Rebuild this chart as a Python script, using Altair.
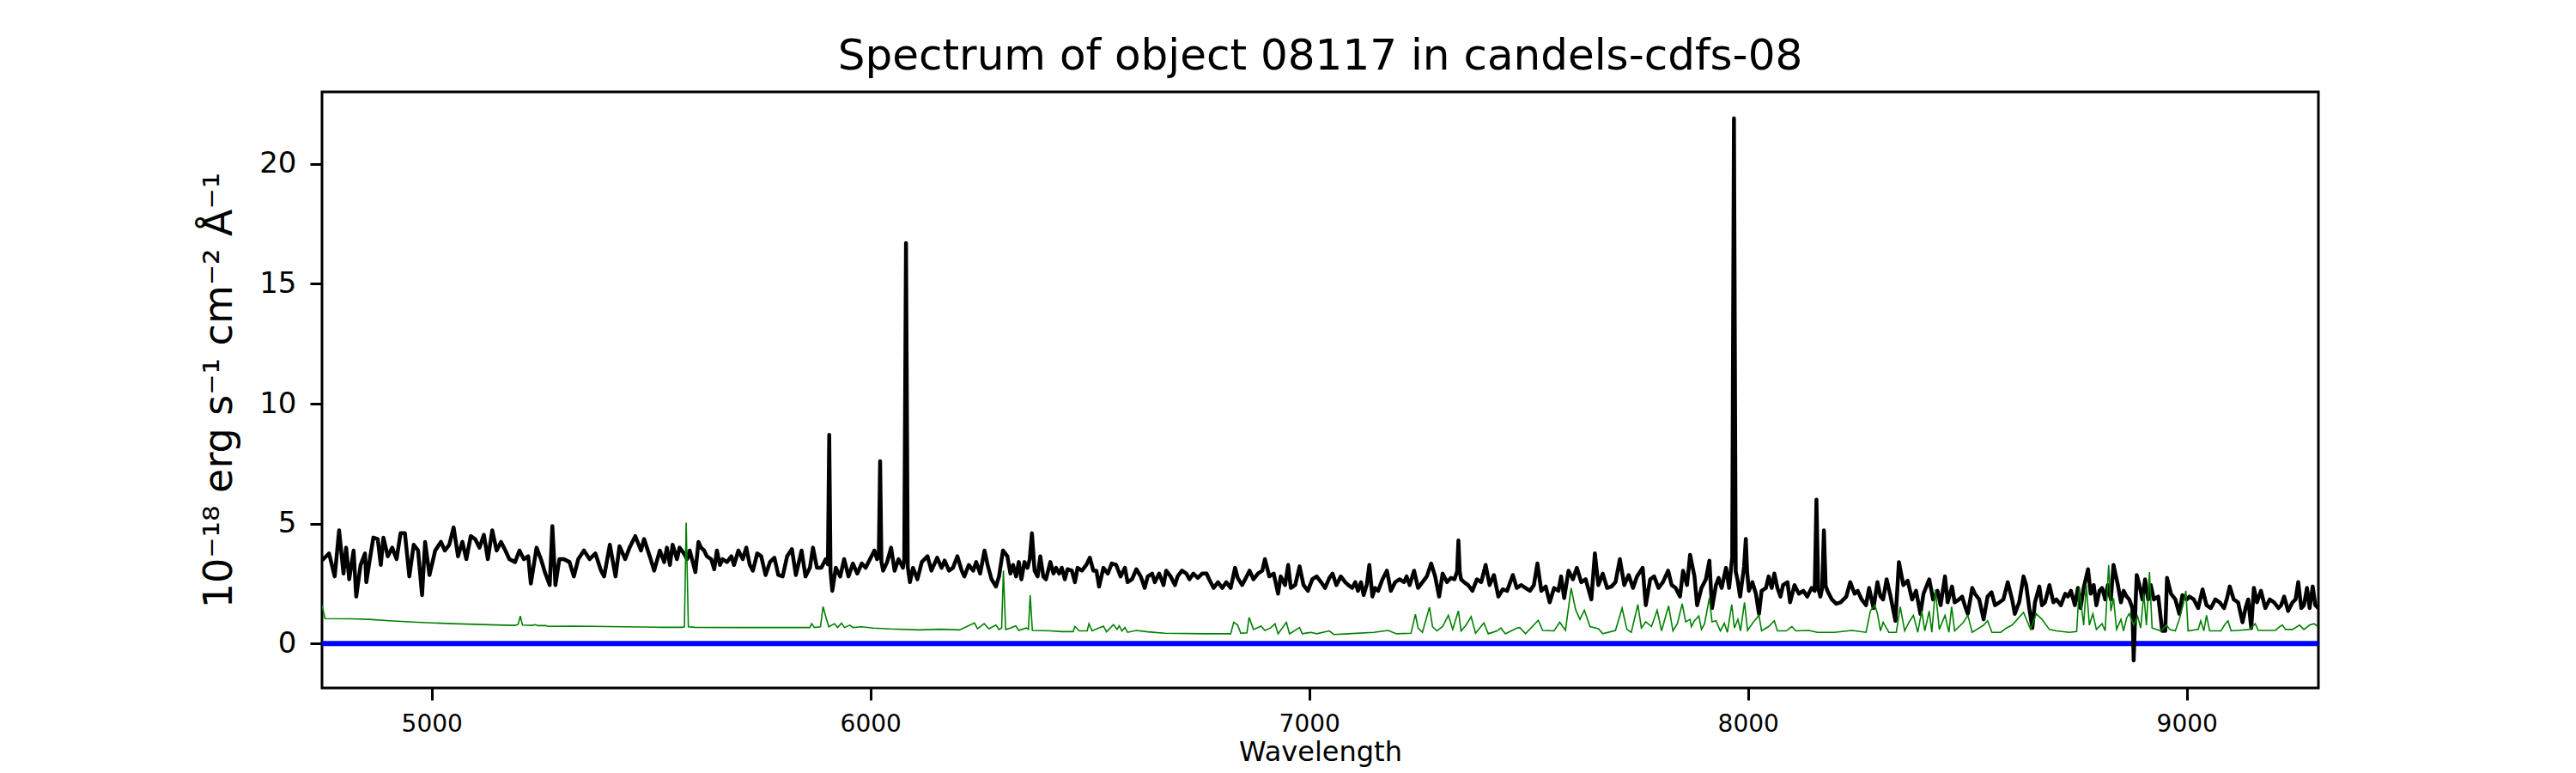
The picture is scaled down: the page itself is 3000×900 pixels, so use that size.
import altair as alt
import pandas as pd

# ---- object spectrum (wavelength [A], flux [1e-18 erg/s/cm2/A]) ----
obj_1 = [(4750,3.6),(4753,3.52),(4766,3.76),(4779,2.80),(4789,4.72),(4799,2.92),(4805,4.00),(4812,2.68),(4822,3.88),(4828,1.96),
         (4838,3.28),(4848,3.76),(4851,2.56),(4858,3.40),(4867,4.42),(4877,4.36),(4884,3.28),(4890,4.42),(4900,3.64),(4910,4.00),
         (4920,3.52),(4929,4.60),(4939,4.60),(4949,2.80),(4959,4.12),(4969,3.88),(4978,2.02),(4985,4.24),(4995,2.86),(5008,3.88),
         (5021,4.24),(5030,3.88),(5040,4.12),(5050,4.84),(5060,3.64),(5070,4.24),(5079,3.52),(5089,4.48),(5099,4.36),(5109,4.00),
         (5119,4.54),(5128,3.52),(5138,4.72),(5148,3.88),(5158,4.24),(5168,3.88),(5177,3.52),(5190,3.40),(5200,3.88),(5210,3.52),
         (5220,3.64),(5226,2.50),(5239,4.00),(5249,3.52),(5259,2.92),(5269,2.44),(5275,4.90),(5282,2.44),(5291,3.52),(5301,3.52),
         (5314,3.40),(5324,2.80),(5334,3.52),(5347,3.88),(5360,3.52),(5373,3.76),(5386,3.04),(5393,2.80),(5406,4.12),(5419,2.80),
         (5428,4.06),(5441,3.52),(5451,4.00),(5464,4.48),(5477,3.88),(5484,4.36),(5497,3.64),(5507,3.04),(5520,3.88)]
obj_2 = [(5530,3.40),(5536,4.00),(5543,3.28),(5549,4.12),(5559,3.52),(5565,4.00),(5575,3.76),(5582,3.52),(5588,3.88),(5595,3.40),
         (5601,2.98),(5608,4.24),(5614,4.00),(5621,3.88),(5627,3.64),(5637,3.52),(5644,3.10),(5650,3.88),(5657,3.28),(5663,3.52),
         (5673,3.40),(5683,3.64),(5689,3.28),(5699,3.88),(5709,3.52),(5717,4.00),(5725,3.28),(5732,3.04),(5742,3.76),(5751,3.64),
         (5761,2.86),(5771,3.40),(5781,3.58),(5790,2.86),(5800,2.80),(5810,3.64),(5821,3.94),(5830,2.86),(5843,3.88),(5852,2.80),
         (5862,3.16),(5869,4.00),(5878,3.16),(5888,3.16),(5898,3.52),(5903,3.3),(5906,8.7),(5909,3.0),(5913,2.20),(5921,3.16),
         (5931,2.80),(5940,3.52),(5950,2.80),(5960,3.34),(5970,2.92),(5980,3.34),(5989,3.16),(5999,3.52),(6009,3.88),(6015,3.52),
         (6019,3.6),(6022,7.6),(6025,3.4),(6029,3.04),(6038,3.40),(6047,4.00),(6055,3.04),(6064,3.52),(6074,3.16),(6077,3.5),
         (6081,16.7),(6085,3.2),(6090,2.56),(6097,3.16),(6107,2.68),(6117,3.40),(6130,3.64),(6139,3.04),(6152,3.58),(6162,3.16),
         (6169,3.46),(6179,3.04),(6188,3.16),(6198,3.64),(6208,3.04),(6214,2.80),(6224,3.28),(6234,3.04),(6241,3.40),(6250,2.92),
         (6260,3.88),(6267,3.28),(6276,2.68),(6286,2.38),(6293,2.80),(6302,3.88)]
obj_3 = [(6312,3.64),(6319,2.92),(6325,3.28),(6332,2.80),(6338,3.40),(6344,2.68),(6351,3.40),(6358,3.16),(6363,3.52),(6368,4.60),
         (6374,3.04),(6381,2.80),(6387,3.64),(6394,2.80),(6400,2.68),(6410,3.40),(6417,2.92),(6423,3.16),(6430,2.92),(6436,3.16),
         (6443,2.68),(6449,3.10),(6459,3.04),(6466,2.56),(6472,3.16),(6482,3.04),(6492,3.28),(6500,3.58),(6508,3.04),(6515,3.04),
         (6521,2.38),(6531,3.16),(6541,2.92),(6550,3.34),(6560,3.28),(6570,2.80),(6580,3.16),(6586,2.56),(6596,2.68),(6606,3.10),
         (6616,2.80),(6625,2.32),(6632,2.80),(6642,2.92),(6648,2.56),(6658,2.92),(6668,2.44),(6674,3.04),(6684,2.80),(6694,2.44),
         (6700,2.80),(6710,3.04),(6720,2.92),(6727,2.68),(6736,2.92),(6746,2.74),(6756,2.92),(6766,2.92),(6772,2.68),(6782,2.32),
         (6792,2.56),(6802,2.32),(6811,2.56),(6821,2.32),(6831,3.16),(6837,2.74),(6847,2.44),(6854,2.68),(6864,3.04),(6873,2.68),
         (6883,2.92),(6893,3.04),(6899,3.52),(6909,2.80),(6919,2.92),(6929,2.08),(6935,2.80),(6945,2.44),(6952,3.28),(6958,2.32),
         (6968,2.44),(6978,3.22),(6987,2.44),(6997,2.20),(7007,2.68),(7017,2.80),(7027,2.56),(7036,2.32),(7046,2.74),(7053,2.92),
         (7062,2.44),(7072,2.80),(7082,2.56)]
obj_4 = [(7089,2.44),(7098,2.32),(7105,2.56),(7111,2.20),(7118,2.56),(7124,2.02),(7131,2.44),(7137,3.28),(7144,1.96),(7150,2.32),
         (7157,2.20),(7167,2.68),(7177,3.04),(7186,2.20),(7196,2.56),(7206,2.68),(7216,2.56),(7222,2.80),(7229,2.44),(7239,3.04),
         (7248,2.32),(7258,2.56),(7268,2.80),(7278,3.34),(7287,2.80),(7296,1.96),(7304,2.92),(7314,2.56),(7323,2.74),(7331,2.68),
         (7337,3.0),(7340,4.30),(7343,3.0),(7346,2.68),(7353,2.56),(7362,2.44),(7372,2.20),(7382,2.68),(7392,2.56),(7402,3.28),
         (7411,2.44),(7421,2.86),(7431,1.96),(7441,2.26),(7451,2.20),(7464,2.86),(7473,2.32),(7483,2.44),(7493,2.32),(7503,2.20),
         (7512,2.44),(7520,3.34),(7529,2.20),(7539,2.38),(7548,1.72),(7558,2.32),(7568,2.20),(7574,2.80),(7581,1.90),(7591,3.04),
         (7601,2.68),(7610,3.16),(7620,2.56),(7630,2.68),(7643,1.84),(7651,3.76),(7659,2.44),(7669,2.92),(7679,2.32),(7689,2.38),
         (7698,2.56),(7708,3.52),(7718,2.44),(7728,2.86),(7738,2.32),(7747,2.80),(7760,3.16),(7767,1.60),(7777,2.68),(7786,2.80),
         (7796,2.32),(7806,2.56),(7818,3.04),(7826,2.44),(7835,2.32),(7845,1.96),(7852,3.04),(7861,2.44),(7868,3.70)]
obj_5 = [(7878,2.80),(7884,1.60),(7894,2.32),(7904,2.68),(7912,3.46),(7918,1.48),(7927,2.44),(7933,2.74),(7940,2.32),(7950,3.16),
         (7957,2.32),(7964,3.6),(7968,21.9),(7972,3.0),(7976,2.68),(7982,1.96),(7991,3.2),(7995,4.36),(7998,3.0),(8002,2.20),
         (8010,2.56),(8018,2.08),(8025,1.24),(8031,2.20),(8041,2.32),(8047,2.80),(8054,2.32),(8060,2.92),(8067,2.32),(8074,1.96),
         (8080,2.44),(8090,2.56),(8096,1.72),(8106,2.44),(8116,2.08),(8126,2.20),(8135,1.96),(8145,2.32),(8152,2.20),(8156,6.0),
         (8160,2.3),(8165,1.96),(8169,2.3),(8173,4.72),(8177,2.4),(8181,2.20),(8191,1.84),(8201,1.66),(8211,1.72),(8224,1.96),
         (8233,2.56),(8243,2.08),(8250,2.20),(8259,1.84),(8269,1.60),(8276,2.32),(8286,1.48),(8295,2.56),(8302,1.96),(8308,1.84),
         (8316,2.68),(8325,1.96),(8336,0.95),(8344,3.40),(8354,2.44),(8364,2.62),(8374,1.84),(8383,2.20),(8393,1.24),(8400,2.08),
         (8413,2.68),(8422,1.84),(8432,2.20),(8439,1.60),(8449,2.80),(8455,1.72),(8465,2.38),(8471,1.72),(8481,1.84),(8488,1.96),
         (8494,1.60),(8501,1.24),(8511,2.32),(8517,2.08),(8527,1.84),(8537,1.01),(8546,1.96),(8555,2.14),(8563,1.60),(8573,1.72),
         (8582,1.84),(8592,2.56),(8602,1.84),(8608,1.24),(8618,1.72),(8628,2.80),(8634,2.44),(8641,1.48),(8648,0.65)]
obj_6 = [(8654,1.72),(8664,2.38),(8670,1.60),(8677,1.72),(8687,2.44),(8696,1.72),(8703,1.84),(8713,1.60),(8723,2.08),(8729,1.96),
         (8736,2.20),(8745,1.60),(8752,2.32),(8758,1.48),(8765,2.32),(8775,3.10),(8781,2.08),(8788,2.44),(8794,1.60),(8801,2.20),
         (8807,2.32),(8814,1.84),(8820,2.44),(8827,1.84),(8833,3.28),(8843,2.44),(8850,1.72),(8856,2.20),(8863,1.96),(8869,1.84),
         (8876,1.48),(8879,-0.7),(8883,1.5),(8886,2.86),(8892,2.44),(8899,1.84),(8905,2.68),(8912,1.84),(8918,2.44),(8925,1.84),
         (8935,1.96),(8944,0.53),(8951,0.53),(8955,2.74),(8964,2.08),(8974,1.84),(8983,1.24),(8990,2.02),(9000,1.84),(9006,1.96),
         (9016,1.84),(9026,1.48),(9036,2.26),(9045,1.60),(9055,1.48),(9065,1.84),(9075,1.72),(9085,1.48),(9091,1.84),(9098,2.38),
         (9107,1.84),(9117,1.72),(9127,0.89),(9134,1.48),(9140,1.84),(9147,0.65),(9153,2.32),(9160,1.72),(9169,2.20),(9179,1.48),
         (9189,1.84),(9199,1.72),(9209,1.48),(9215,1.60),(9222,1.96),(9231,1.36),(9241,1.72),(9248,1.84),(9254,2.56),(9261,1.48),
         (9267,1.60),(9274,2.32),(9280,1.48),(9287,2.38),(9293,1.60),(9300,1.48)]

# ---- sky spectrum ----
sky_1 = [(4750,1.60),(4757,1.04),(4818,1.03),(4857,1.01),(4903,0.95),(4968,0.89),(5047,0.83),(5164,0.77),(5190,0.76),(5197,0.80),
         (5202,1.15),(5207,0.77),(5230,0.76),(5236,0.79),(5242,0.75),(5260,0.75),(5265,0.72),(5327,0.73),(5400,0.71),(5480,0.69),
         (5523,0.68)]
sky_2 = [(5570,0.68),(5576,0.70),(5580,5.04),(5585,0.70),(5600,0.68),(5700,0.67),(5800,0.67),(5862,0.67),(5866,0.83),(5872,0.67),
         (5886,0.70),(5892,1.54),(5898,1.13),(5905,0.70),(5918,0.83),(5925,0.67),(5934,0.85),(5941,0.67),(5953,0.77),(5960,0.67),
         (5980,0.70),(6006,0.65),(6045,0.61),(6110,0.57),(6160,0.60),(6203,0.57),(6237,0.86),(6244,0.62),(6259,0.83),(6270,0.62),
         (6286,0.77),(6293,0.59),(6299,0.65),(6303,3.05),(6308,0.59)]
sky_3 = [(6319,0.65),(6331,0.74),(6338,0.55),(6355,0.65),(6360,0.60),(6364,2.02),(6369,0.55),(6410,0.53),(6436,0.50),(6462,0.50),
         (6466,0.71),(6476,0.53),(6494,0.53),(6498,0.83),(6505,0.53),(6531,0.73),(6538,0.49),(6554,0.79),(6562,0.59),(6567,0.74),
         (6573,0.53),(6580,0.67),(6586,0.47),(6606,0.55),(6632,0.49),(6671,0.43),(6762,0.41),(6821,0.41),(6828,0.89),(6837,0.77),
         (6844,0.43),(6858,0.45),(6863,1.09),(6873,0.59),(6890,0.73),(6899,0.55),(6912,0.65),(6922,0.83),(6929,0.41),(6948,0.89),
         (6955,0.41),(6978,0.67),(6984,0.41),(7004,0.47),(7017,0.41),(7046,0.53),(7056,0.38),(7089,0.41)]
sky_4 = [(7147,0.47),(7180,0.55),(7199,0.41),(7232,0.43),(7242,1.22),(7248,0.65),(7258,0.47),(7274,1.52),(7281,0.71),(7291,0.53),
         (7304,0.71),(7317,1.18),(7327,0.59),(7340,1.36),(7346,0.53),(7356,0.74),(7369,1.12),(7379,0.43),(7398,0.86),(7408,0.41),
         (7428,0.53),(7437,0.65),(7447,0.41),(7473,0.65),(7480,0.67),(7493,0.41),(7522,0.97),(7532,0.55),(7558,0.53),(7571,0.89),
         (7584,0.55),(7597,2.32),(7607,1.42),(7617,1.01),(7627,1.39),(7640,0.71),(7659,0.62),(7669,0.41),(7698,0.55),(7713,1.48),
         (7724,0.59),(7734,0.47),(7749,1.63),(7757,0.65),(7767,0.91),(7780,0.71),(7793,1.39),(7803,0.53),(7819,1.57),(7829,0.53),
         (7839,0.83),(7850,1.66),(7858,0.91),(7868,1.01)]
sky_5 = [(7871,0.71),(7878,0.95),(7888,1.15),(7894,0.59),(7901,0.83),(7912,1.90),(7918,0.91),(7927,0.95),(7937,0.53),(7946,0.85),
         (7953,0.47),(7963,1.63),(7969,0.65),(7977,1.01),(7983,0.53),(7992,1.72),(7999,0.55),(8012,0.89),(8025,1.18),(8031,0.53),
         (8047,0.71),(8060,0.95),(8067,0.53),(8087,0.53),(8100,0.71),(8109,0.53),(8139,0.55),(8158,0.47),(8197,0.47),(8237,0.55),
         (8269,0.47),(8279,1.36),(8289,1.60),(8295,1.25),(8302,0.53),(8308,0.89),(8321,0.47),(8338,0.47),(8347,1.54),(8357,0.53),
         (8367,0.89),(8377,1.18),(8387,0.47),(8396,1.36),(8403,0.53),(8413,1.36),(8419,0.47),(8427,2.26),(8436,0.59),(8449,1.18),
         (8458,0.47),(8464,1.54),(8471,0.53),(8491,0.89),(8501,1.18),(8511,0.47),(8537,0.77),(8546,0.95),(8556,0.47),(8576,0.47),
         (8589,0.65),(8602,0.77),(8628,1.30),(8644,0.59)]
sky_6 = [(8657,1.24),(8670,1.01),(8687,0.59),(8703,0.53),(8732,0.47),(8749,0.50),(8755,2.32),(8765,0.77),(8771,2.44),(8778,0.77),
         (8786,1.24),(8794,0.59),(8807,0.83),(8814,0.53),(8822,3.28),(8827,1.36),(8833,1.90),(8840,0.59),(8850,1.01),(8856,0.53),
         (8863,1.07),(8869,1.25),(8879,0.77),(8888,1.13),(8895,0.65),(8902,2.08),(8908,0.77),(8915,2.98),(8921,0.65),(8941,0.53),
         (8954,0.77),(8961,0.59),(8974,0.53),(8983,1.01),(8993,1.72),(8998,2.20),(9003,0.53),(9026,0.59),(9032,0.95),(9039,0.53),
         (9045,1.18),(9052,0.53),(9078,0.53),(9088,0.83),(9094,0.95),(9101,0.53),(9117,0.55),(9143,0.59),(9156,0.83),(9163,0.55),
         (9202,0.55),(9212,0.71),(9218,0.77),(9225,0.59),(9241,0.59),(9257,0.77),(9267,0.59),(9280,0.77),(9290,0.83),(9299,0.71)]

x_ticks = [5000, 6000, 7000, 8000, 9000]
y_ticks = [0, 5, 10, 15, 20]
zero_level = [0]

TITLE = "Spectrum of object 08117 in candels-cdfs-08"
X_TITLE = "Wavelength"
Y_TITLE = "10\u207b\u00b9\u2078 erg s\u207b\u00b9 cm\u207b\u00b2 \u00c5\u207b\u00b9"
FONT = "DejaVu Sans"

df_obj = pd.DataFrame(obj_1 + obj_2 + obj_3 + obj_4 + obj_5 + obj_6, columns=["wave", "flux"])
df_obj["order"] = range(len(df_obj))
df_sky = pd.DataFrame(sky_1 + sky_2 + sky_3 + sky_4 + sky_5 + sky_6, columns=["wave", "flux"])
df_sky["order"] = range(len(df_sky))
df_zero = pd.DataFrame({"flux": zero_level})

x_scale = alt.Scale(domain=[4750, 9300], nice=False, zero=False)
y_scale = alt.Scale(domain=[-1.85, 23.0], nice=False, zero=False)

x_axis = alt.Axis(values=x_ticks, format="d", title=X_TITLE, labelFontSize=28, titleFontSize=32,
                  tickSize=14, tickWidth=3, tickColor="black", labelColor="black", titleColor="black",
                  domain=False, grid=False, labelPadding=14, titlePadding=3, titleFontWeight="normal",
                  labelFont=FONT, titleFont=FONT, labelFlush=False)
y_axis = alt.Axis(values=y_ticks, format="d", title=Y_TITLE, labelFontSize=34, titleFontSize=46,
                  tickSize=14, tickWidth=3, tickColor="black", labelColor="black", titleColor="black",
                  domain=False, grid=False, labelPadding=16, titlePadding=22, titleFontWeight="normal",
                  labelFont=FONT, titleFont=FONT, labelFlush=False)

zero_rule = alt.Chart(df_zero).mark_rule(color="#0000ff", strokeWidth=6).encode(
    y=alt.Y("flux:Q", scale=y_scale, axis=y_axis)
)
obj_line = alt.Chart(df_obj).mark_line(color="black", strokeWidth=4.5, clip=True, strokeJoin="round").encode(
    x=alt.X("wave:Q", scale=x_scale, axis=x_axis),
    y=alt.Y("flux:Q", scale=y_scale, axis=y_axis),
    order="order:Q",
)
sky_line = alt.Chart(df_sky).mark_line(color="#008000", strokeWidth=1.6, clip=True).encode(
    x=alt.X("wave:Q", scale=x_scale),
    y=alt.Y("flux:Q", scale=y_scale),
    order="order:Q",
)

chart = alt.layer(zero_rule, obj_line, sky_line).properties(
    width=2325,
    height=694,
    background="white",
    title=alt.TitleParams(TITLE, fontSize=50, font=FONT, fontWeight="normal", anchor="middle",
                          offset=-24, baseline="alphabetic", color="black"),
    autosize=alt.AutoSizeParams(type="none"),
    padding={"left": 367, "top": 99, "right": 292, "bottom": 98},
).configure_view(stroke="black", strokeWidth=3)

chart.save("out.html", embed_options={"renderer": "svg", "actions": False})
